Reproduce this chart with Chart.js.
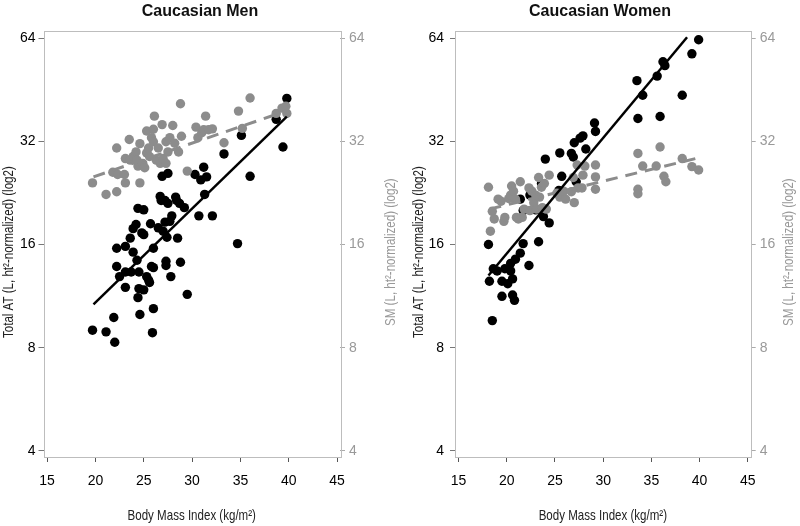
<!DOCTYPE html>
<html>
<head>
<meta charset="utf-8">
<script src="https://cdn.jsdelivr.net/npm/chart.js@4.4.1/dist/chart.umd.min.js"></script>
<style>
  html, body { margin: 0; padding: 0; background: #fff; }
  #wrap { position: relative; width: 800px; height: 526px; }
  .panel { position: absolute; top: 0; height: 526px; width: 400px; }
</style>
</head>
<body>
<div id="wrap">
  <div class="panel" style="left:0"><canvas id="men" width="400" height="526"></canvas></div>
  <div class="panel" style="left:400px"><canvas id="women" width="400" height="526"></canvas></div>
</div>
<script>
// --- DATA: Caucasian Men ---
const menAtBmi = [19.7, 21.1, 22.0, 21.9, 22.2, 22.2, 22.5, 23.1, 23.1, 23.1,
  23.7, 23.6, 23.9, 23.9, 24.3, 24.5, 24.5, 24.4, 24.2, 24.4,
  24.6, 24.8, 25.0, 25.0, 25.0, 25.3, 25.5, 25.6, 25.7, 25.8,
  25.9, 26.0, 26.0, 26.0, 26.5, 26.7, 26.8, 26.9, 27.0, 27.2,
  27.2, 27.3, 27.3, 27.4, 27.5, 27.5, 27.7, 27.8, 27.9, 28.3,
  28.4, 28.5, 28.7, 28.8, 29.2, 29.5, 30.3, 30.7, 30.9, 31.2,
  31.3, 31.5, 32.1, 33.3, 34.7, 35.1, 36.0, 38.7, 39.4, 39.8];
const menAt = [9.0, 8.9, 8.3, 9.8, 15.6, 13.8, 12.9, 15.8, 12.0, 13.3,
  13.3, 16.7, 15.2, 17.8, 14.4, 13.3, 11.9, 11.2, 18.3, 20.4,
  10.0, 17.3, 20.2, 17.1, 11.8, 12.9, 12.6, 12.4, 18.4, 13.8,
  8.85, 10.4, 15.6, 13.7, 17.9, 22.1, 21.5, 25.3, 17.5, 18.6,
  21.5, 14.3, 13.9, 16.8, 25.8, 21.1, 18.7, 12.9, 19.4, 22.0,
  21.5, 16.7, 21.1, 14.2, 20.5, 11.45, 25.6, 19.4, 24.7, 26.9,
  22.4, 25.2, 19.4, 29.4, 16.1, 33.3, 25.3, 37.1, 30.8, 42.7];
const menSmBmi = [19.7, 21.1, 22.2, 22.2, 21.8, 22.3, 23.0, 23.1, 23.5, 23.1,
  23.6, 23.9, 24.2, 24.3, 24.4, 24.6, 24.6, 24.9, 25.1, 25.3,
  25.3, 25.5, 25.6, 25.8, 26.0, 26.0, 26.1, 26.3, 26.5, 26.7,
  26.9, 27.0, 27.3, 27.3, 27.5, 27.7, 28.0, 28.2, 28.6, 28.8,
  28.9, 29.5, 30.4, 30.6, 31.0, 31.4, 31.2, 31.7, 32.1, 33.3,
  34.8, 35.2, 36.0, 38.7, 39.3, 39.8, 39.7];
const menSm = [24.2, 22.4, 22.8, 30.6, 26.0, 25.6, 25.6, 24.2, 32.4, 28.5,
  28.2, 28.9, 29.8, 28.2, 27.1, 24.2, 31.5, 27.6, 26.8, 34.3,
  29.6, 30.6, 28.9, 32.8, 34.7, 31.9, 37.9, 28.2, 30.6, 27.6,
  35.8, 28.5, 31.9, 27.6, 29.8, 32.8, 35.6, 31.6, 29.8, 41.2,
  33.1, 26.2, 35.2, 32.8, 33.9, 37.9, 34.6, 34.6, 34.8, 31.7,
  39.2, 34.9, 42.8, 38.6, 40.0, 38.6, 40.5];
const menFitBmi = [19.8, 39.8];
const menFitAt = [10.7, 37.8];
const menFitSm = [25.2, 39.3];

// --- DATA: Caucasian Women ---
const womenAtBmi = [18.1, 18.2, 18.5, 18.6, 19.0, 19.5, 19.5, 19.8, 20.1, 20.4,
  20.4, 20.6, 20.6, 20.8, 20.9, 21.4, 21.7, 21.4, 21.7, 22.3,
  22.4, 23.0, 23.3, 23.6, 23.8, 24.0, 24.4, 25.4, 25.5, 25.7,
  26.7, 26.9, 27.0, 27.2, 27.6, 27.9, 28.2, 29.1, 29.2, 33.5,
  33.6, 34.1, 35.6, 35.9, 36.2, 36.4, 38.2, 39.2, 39.9];
const womenAt = [16.0, 12.5, 9.6, 13.6, 13.4, 12.5, 11.3, 13.6, 12.3, 14.1,
  13.4, 12.7, 11.4, 11.0, 14.5, 15.1, 16.1, 21.7, 20.1, 13.9,
  22.3, 20.2, 16.3, 24.1, 19.3, 28.4, 18.5, 23.0, 29.6, 25.3,
  29.5, 28.8, 31.7, 24.4, 32.7, 33.2, 30.4, 36.2, 34.2, 48.1,
  37.3, 43.6, 49.6, 37.8, 54.6, 53.2, 43.6, 57.6, 63.3];
const womenSmBmi = [18.1, 18.3, 18.5, 18.7, 19.1, 19.4, 19.7, 19.8, 20.2, 20.4,
  20.5, 20.7, 20.9, 21.0, 21.2, 21.4, 21.6, 21.8, 22.3, 22.4,
  22.6, 22.8, 23.0, 23.1, 23.3, 23.4, 23.6, 23.7, 23.9, 24.1,
  24.4, 25.2, 25.5, 25.7, 25.9, 26.1, 26.7, 26.9, 27.0, 27.3,
  27.4, 27.8, 27.9, 28.1, 29.2, 29.2, 29.2, 33.6, 33.6, 33.6,
  34.1, 35.5, 35.9, 36.3, 36.5, 38.2, 39.2, 39.9];
const womenSm = [23.5, 17.5, 20.0, 19.0, 21.7, 21.4, 18.7, 19.2, 21.8, 22.3,
  23.7, 22.9, 21.7, 19.2, 19.0, 24.4, 19.2, 20.3, 23.4, 20.1,
  22.9, 21.2, 22.3, 20.3, 25.1, 22.0, 23.5, 20.5, 24.1, 20.3,
  25.5, 22.6, 22.0, 22.3, 22.9, 21.7, 22.8, 25.1, 21.2, 27.3,
  23.4, 23.4, 25.5, 27.1, 27.3, 25.2, 23.2, 23.2, 22.5, 29.5,
  27.1, 27.1, 30.8, 25.3, 24.4, 28.5, 27.0, 26.4];
const womenFitAtBmi = [18.1, 38.7];
const womenFitAt = [13.0, 64.4];
const womenFitSmBmi = [18.2, 40.0];
const womenFitSm = [20.3, 28.7];

// --- AXES ---
const xTicks = [15, 20, 25, 30, 35, 40, 45];
const yTicks = [4, 8, 16, 32, 64];
const xLabel = 'Body Mass Index (kg/m\u00B2)';
const yLeftLabel = 'Total AT (L, ht\u00B2-normalized) (log2)';
const yRightLabel = 'SM (L, ht\u00B2-normalized) (log2)';

const FONT = "'Liberation Sans', Arial, sans-serif";
const GRAY = '#8c8c8c';

function pts(xs, ys) {
    return xs.map((x, i) => ({ x: x, y: ys[i] }));
}

// frame round the plot area
const framePlugin = {
    id: 'frame',
    beforeDatasetsDraw(chart) {
        const a = chart.chartArea, ctx = chart.ctx;
        ctx.save();
        ctx.strokeStyle = '#bdbdbd';
        ctx.lineWidth = 1;
        ctx.strokeRect(Math.round(a.left) + 0.5, Math.round(a.top) + 0.5,
            Math.round(a.right - a.left), Math.round(a.bottom - a.top));
        ctx.restore();
    }
};

// axis titles, drawn a little condensed like the original; both y titles read bottom-to-top
function condensedText(ctx, text, x, y, angle, color) {
    ctx.save();
    ctx.translate(x, y);
    ctx.rotate(angle);
    ctx.scale(0.77, 1);
    ctx.font = '15px ' + FONT;
    ctx.fillStyle = color;
    ctx.textAlign = 'center';
    ctx.textBaseline = 'middle';
    ctx.fillText(text, 0, 0);
    ctx.restore();
}

const axisTitlePlugin = {
    id: 'axisTitles',
    afterDraw(chart, args, opts) {
        const ctx = chart.ctx, a = chart.chartArea;
        const cy = (a.top + a.bottom) / 2 + opts.shift;
        condensedText(ctx, yLeftLabel, opts.leftX, cy, -Math.PI / 2, '#222');
        condensedText(ctx, yRightLabel, opts.rightX, cy, -Math.PI / 2, '#999');
        condensedText(ctx, xLabel, (a.left + a.right) / 2, opts.bottomY, 0, '#222');
    }
};

function makeChart(id, title, d, lay) {
    const yScale = (pos, col, width, pad) => ({
        type: 'logarithmic',
        position: pos,
        min: 3.84,
        max: 67.05,
        afterBuildTicks: s => { s.ticks = yTicks.map(v => ({ value: v })); },
        afterFit: s => { s.width = width; },
        ticks: { color: col, padding: pad, font: { family: FONT, size: 14 }, callback: v => String(v) },
        grid: { drawOnChartArea: false, tickLength: 5, tickColor: col === '#000' ? '#777' : '#aaa' },
        border: { display: false }
    });

    new Chart(document.getElementById(id).getContext('2d'), {
        data: {
            datasets: [
                { type: 'scatter', data: pts(d.atX, d.at), yAxisID: 'y', order: 4,
                  backgroundColor: '#000', pointRadius: 4.7, borderWidth: 0 },
                { type: 'scatter', data: pts(d.smX, d.sm), yAxisID: 'y2', order: 3,
                  backgroundColor: GRAY, pointRadius: 4.7, borderWidth: 0 },
                { type: 'line', data: pts(d.fitSmX, d.fitSm), yAxisID: 'y2', order: 2,
                  borderColor: GRAY, borderWidth: 3, borderDash: [12, 8], pointRadius: 0, fill: false },
                { type: 'line', data: pts(d.fitAtX, d.fitAt), yAxisID: 'y', order: 1,
                  borderColor: '#000', borderWidth: 2.5, pointRadius: 0, fill: false }
            ]
        },
        options: {
            responsive: false,
            animation: false,
            layout: { padding: 0 },
            scales: {
                x: {
                    type: 'linear',
                    min: 14.63,
                    max: 45.3,
                    afterBuildTicks: s => { s.ticks = xTicks.map(v => ({ value: v })); },
                    afterFit: s => { s.height = 69; },
                    ticks: { color: '#000', padding: 11, maxRotation: 0, autoSkip: false,
                             font: { family: FONT, size: 14 } },
                    grid: { drawOnChartArea: false, tickLength: 5, tickColor: '#555' },
                    border: { display: false }
                },
                y: yScale('left', '#000', lay.leftW, lay.leftPad),
                y2: yScale('right', '#999', lay.rightW, 4)
            },
            plugins: {
                legend: { display: false },
                tooltip: { enabled: false },
                title: { display: true, text: title, color: '#111',
                         font: { family: FONT, size: 16, weight: 'bold' },
                         padding: { top: 1.5, bottom: 10.5 } },
                axisTitles: { leftX: lay.titleL, rightX: lay.titleR, shift: 8, bottomY: 516 }
            }
        },
        plugins: [framePlugin, axisTitlePlugin]
    });
}

makeChart('men', 'Caucasian Men',
    { atX: menAtBmi, at: menAt, smX: menSmBmi, sm: menSm,
      fitAtX: menFitBmi, fitAt: menFitAt, fitSmX: menFitBmi, fitSm: menFitSm },
    { leftW: 43.5, rightW: 60, leftPad: 3, titleL: 9, titleR: 391 });

makeChart('women', 'Caucasian Women',
    { atX: womenAtBmi, at: womenAt, smX: womenSmBmi, sm: womenSm,
      fitAtX: womenFitAtBmi, fitAt: womenFitAt, fitSmX: womenFitSmBmi, fitSm: womenFitSm },
    { leftW: 55, rightW: 49.3, leftPad: 6, titleL: 19, titleR: 389 });
</script>
</body>
</html>
